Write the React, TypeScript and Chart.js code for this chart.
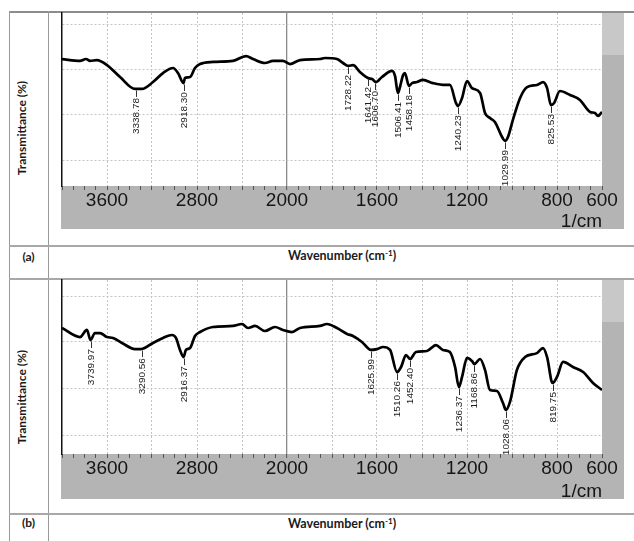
import React, { useEffect, useRef } from 'react';
import { Chart, registerables } from 'chart.js';
Chart.register(...registerables);

// ---------- data ----------
const waveA = [4000,3840,3787,3751,3689,3600,3484,3351,3289,3191,3102,3013,2969,2920,2907,2862,2818,2773,2658,2480,2364,2302,2196,2124,2036,1987,1942,1853,1831,1778,1751,1728,1706,1676,1640,1622,1604,1578,1533,1520,1507,1498,1484,1476,1458,1444,1422,1396,1351,1298,1276,1249,1240,1222,1200,1178,1142,1120,1098,1076,1044,1031,1018,996,964,933,889,862,844,827,813,787,742,698,653,631,618,600];
const transA = [73.4,72.3,73.4,72.3,72.8,69.9,63.0,56.1,56.1,60.1,65.3,68.2,65.3,59.5,62.4,63.0,68.2,70.5,71.7,72.3,75.1,73.4,71.1,72.3,72.3,70.5,72.8,73.4,74.0,73.4,71.1,69.4,69.9,65.9,62.4,61.8,60.1,63.0,66.5,63.6,53.8,57.2,64.2,65.3,57.8,59.5,60.1,61.3,59.5,58.4,58.4,48.0,46.2,50.9,60.7,56.6,53.8,42.2,39.3,37.0,28.3,26.0,28.3,38.2,50.9,57.2,58.4,60.1,56.6,46.8,48.0,54.9,52.6,49.7,42.8,42.2,40.5,42.8];
const peakWaveA = [3338.78,2918.30,1728.22,1641.42,1606.70,1506.41,1458.18,1240.23,1029.99,825.53];
const peakTransA = [56.1,59.5,69.4,62.4,60.1,53.8,57.8,46.2,26.0,46.8];
const peakLabelA = ['3338.78','2918.30','1728.22','1641.42','1606.70','1506.41','1458.18','1240.23','1029.99','825.53'];
const gridYA = [15.0,41.6,67.6,93.6];

const waveB = [4000,3840,3778,3747,3707,3662,3600,3547,3467,3351,3298,3191,3102,3022,2987,2951,2920,2898,2862,2818,2773,2658,2480,2400,2347,2284,2196,2107,2036,1978,1942,1853,1822,1778,1733,1707,1667,1627,1600,1573,1542,1511,1493,1471,1453,1427,1378,1338,1307,1276,1253,1236,1222,1200,1178,1167,1142,1120,1098,1067,1040,1027,1009,978,942,889,862,844,820,800,773,729,684,640,600];
const transB = [72.4,67.2,71.3,65.5,69.5,69.5,67.2,66.7,63.8,60.3,60.3,63.8,66.7,68.4,66.7,59.8,55.7,59.8,60.9,67.8,70.1,73.0,73.6,74.7,72.4,73.6,70.7,73.0,71.3,70.1,72.4,73.6,74.7,72.4,69.0,67.8,64.4,59.8,60.3,61.5,59.8,47.1,50.0,56.9,54.6,58.6,59.2,62.6,59.8,58.6,50.0,38.5,44.3,55.2,53.4,51.7,54.6,48.3,36.8,36.2,29.3,25.3,29.9,48.3,55.7,58.0,60.9,55.7,40.8,44.3,52.9,50.0,47.1,40.8,36.8];
const peakWaveB = [3739.97,3290.56,2916.37,1625.99,1510.26,1452.40,1236.37,1168.86,1028.06,819.75];
const peakTransB = [65.5,60.3,55.7,59.8,47.1,54.6,38.5,51.7,25.3,40.8];
const peakLabelB = ['3739.97','3290.56','2916.37','1625.99','1510.26','1452.40','1236.37','1168.86','1028.06','819.75'];
const gridYB = [10.9,37.4,64.4,90.8];

const labelWaves = [3600,2800,2000,1600,1200,800,600];
const gridWaves = [3600,3200,2800,2400,2000,1800,1600,1400,1200,1000,800];
const unitLabel = '1/cm';

// split axis: 4000-2000 at half scale, 2000-600 at full scale
const toPos = (wn: number) => (wn <= 2000 ? wn : 2000 + (wn - 2000) / 2);
const fromPos = (p: number) => Math.round(p <= 2000 ? p : 2000 + (p - 2000) * 2);

const tickWaves: number[] = [];
for (let w = 4000; w > 2000; w -= 100) tickWaves.push(w);
for (let w = 2000; w >= 600; w -= 50) tickWaves.push(w);

const BAND = '#b4b4b4';
const STRIP_TOP = '#c8c8c8';
const STRIP_W = 22;
const SANS = "'Liberation Sans', Arial, sans-serif";

type PanelProps = {
  top: number; plotH: number; bandH: number;
  waves: number[]; trans: number[];
  peakWaves: number[]; peakTrans: number[]; peakLabels: string[];
  gridY: number[];
};

const Panel = (p: PanelProps) => {
  const ref = useRef<HTMLCanvasElement>(null);
  const PAD_T = 5, PAD_B = 3, PAD_L = 6, PAD_R = 24;
  const W = 570;
  const H = PAD_T + p.plotH + p.bandH + PAD_B;

  useEffect(() => {
    const bandPlugin = {
      id: 'band',
      beforeDraw(chart: any) {
        const { ctx, chartArea: a, scales } = chart;
        const xb = scales.x.bottom;
        ctx.save();
        ctx.fillStyle = BAND;
        ctx.fillRect(a.left - 1, a.bottom, a.right - a.left + 1 + STRIP_W, xb - a.bottom);
        ctx.fillRect(a.right, a.top, STRIP_W, a.bottom - a.top);
        ctx.fillStyle = STRIP_TOP;
        ctx.fillRect(a.right, a.top, STRIP_W, 42);
        ctx.restore();
      },
    };
    const peakPlugin = {
      id: 'peaks',
      afterDatasetsDraw(chart: any) {
        const { ctx, scales } = chart;
        ctx.save();
        ctx.strokeStyle = '#333';
        ctx.fillStyle = '#1c1c1c';
        ctx.lineWidth = 1;
        ctx.font = `10px ${SANS}`;
        p.peakWaves.forEach((wn, i) => {
          const px = Math.round(scales.x.getPixelForValue(toPos(wn))) + 0.5;
          const py = scales.y.getPixelForValue(p.peakTrans[i]);
          ctx.beginPath();
          ctx.moveTo(px, py + 1.5);
          ctx.lineTo(px, py + 8);
          ctx.stroke();
          ctx.save();
          ctx.translate(px, py + 9);
          ctx.rotate(-Math.PI / 2);
          ctx.scale(1, 0.85);
          ctx.textAlign = 'right';
          ctx.textBaseline = 'middle';
          ctx.fillText(p.peakLabels[i], 0, 0.5);
          ctx.restore();
        });
        ctx.restore();
      },
    };

    const chart = new Chart(ref.current as HTMLCanvasElement, {
      type: 'line',
      data: {
        datasets: [
          {
            data: p.waves.map((w, i) => ({ x: toPos(w), y: p.trans[i] })),
            borderColor: '#000',
            borderWidth: 2.7,
            pointRadius: 0,
            fill: false,
            cubicInterpolationMode: 'monotone',
          },
        ],
      },
      options: {
        animation: false,
        responsive: false,
        devicePixelRatio: 1,
        parsing: false,
        layout: { padding: { top: PAD_T, bottom: PAD_B, left: PAD_L, right: PAD_R } },
        plugins: { legend: { display: false }, tooltip: { enabled: false } },
        scales: {
          x: {
            type: 'linear',
            reverse: true,
            min: 600,
            max: 3000,
            afterBuildTicks: (s: any) => {
              s.ticks = tickWaves.map((w) => ({ value: toPos(w) }));
            },
            afterFit: (s: any) => {
              s.height = p.bandH;
            },
            ticks: {
              autoSkip: false,
              maxRotation: 0,
              padding: 1,
              color: '#151515',
              font: { family: SANS, size: 19, lineHeight: 1 },
              callback: (v: any) => {
                const wn = fromPos(Number(v));
                return labelWaves.includes(wn) ? String(wn) : '';
              },
            },
            grid: {
              drawTicks: true,
              tickLength: 4,
              tickWidth: 1,
              tickColor: '#555',
              lineWidth: (c: any) => (fromPos(c.tick.value) === 2000 ? 1.3 : 1),
              color: (c: any) => {
                const wn = fromPos(c.tick.value);
                if (wn === 2000) return '#8a8a8a';
                if (gridWaves.includes(wn)) return '#c4c4c4';
                return 'rgba(0,0,0,0)';
              },
            },
            border: {
              display: false,
              dash: (c: any) => (c.tick && fromPos(c.tick.value) === 2000 ? [] : [2, 2]),
            },
          },
          y: {
            type: 'linear',
            min: 0,
            max: 100,
            afterBuildTicks: (s: any) => {
              s.ticks = p.gridY.map((v) => ({ value: v }));
            },
            afterFit: (s: any) => {
              s.width = 0;
            },
            ticks: { display: false },
            grid: { drawTicks: false, color: '#c4c4c4', lineWidth: 1 },
            border: { display: true, color: '#111', width: 1.5, dash: [2, 2] },
          },
        },
      } as any,
      plugins: [bandPlugin, peakPlugin],
    });
    return () => chart.destroy();
  }, []);

  return (
    <canvas
      ref={ref}
      width={W}
      height={H}
      style={{ position: 'absolute', left: 56, top: p.top - PAD_T, width: W, height: H }}
    />
  );
};

const LABEL_FONT = "Lato, 'Open Sans', sans-serif";

const Line = ({ x, y, w, h, c }: { x: number; y: number; w: number; h: number; c: string }) => (
  <div style={{ position: 'absolute', left: x, top: y, width: w, height: h, background: c }} />
);

const Txt = ({ cx, cy, text, rotate, size }: { cx: number; cy: number; text: React.ReactNode; rotate?: boolean; size: number }) => (
  <div
    style={{
      position: 'absolute',
      left: cx - 100,
      top: cy - 10,
      width: 200,
      height: 20,
      lineHeight: '20px',
      textAlign: 'center',
      fontFamily: LABEL_FONT,
      fontWeight: 700,
      fontSize: size,
      color: '#1a1a1a',
      whiteSpace: 'nowrap',
      transform: rotate ? 'rotate(-90deg)' : undefined,
    }}
  >
    {text}
  </div>
);

const Unit = ({ top }: { top: number }) => (
  <div
    style={{
      position: 'absolute',
      left: 450,
      width: 152,
      top,
      height: 19,
      lineHeight: '19px',
      textAlign: 'right',
      fontFamily: SANS,
      fontSize: 19,
      color: '#151515',
    }}
  >
    {unitLabel}
  </div>
);

const wnText = (
  <span>
    Wavenumber (cm<sup style={{ fontSize: '0.65em', verticalAlign: 'top', lineHeight: '14px' }}>-1</sup>)
  </span>
);

export default function App() {
  return (
    <div
      style={{
        position: 'absolute',
        left: 0,
        top: 0,
        width: 634,
        height: 541,
        background: '#fff',
        overflow: 'hidden',
      }}
    >
      {/* table lines */}
      <Line x={9} y={11} w={625} h={2} c="#8c8c8c" />
      <Line x={9} y={11} w={1} h={530} c="#999" />
      <Line x={48} y={11} w={1} h={530} c="#999" />
      <Line x={9} y={245} w={625} h={2} c="#a8a8a8" />
      <Line x={9} y={278} w={625} h={2} c="#a8a8a8" />
      <Line x={9} y={513} w={625} h={2} c="#a8a8a8" />

      <Panel
        top={13}
        plotH={173}
        bandH={43}
        waves={waveA}
        trans={transA}
        peakWaves={peakWaveA}
        peakTrans={peakTransA}
        peakLabels={peakLabelA}
        gridY={gridYA}
      />
      <Panel
        top={280}
        plotH={174}
        bandH={45}
        waves={waveB}
        trans={transB}
        peakWaves={peakWaveB}
        peakTrans={peakTransB}
        peakLabels={peakLabelB}
        gridY={gridYB}
      />
      <Unit top={211} />
      <Unit top={481} />

      <Txt cx={22} cy={128} text="Transmittance (%)" rotate size={12} />
      <Txt cx={22} cy={397} text="Transmittance (%)" rotate size={12} />
      <Txt cx={28.5} cy={257} text="(a)" size={12} />
      <Txt cx={28.5} cy={523} text="(b)" size={12} />
      <Txt cx={342} cy={256} text={wnText} size={12.5} />
      <Txt cx={342} cy={524} text={wnText} size={12.5} />
    </div>
  );
}
